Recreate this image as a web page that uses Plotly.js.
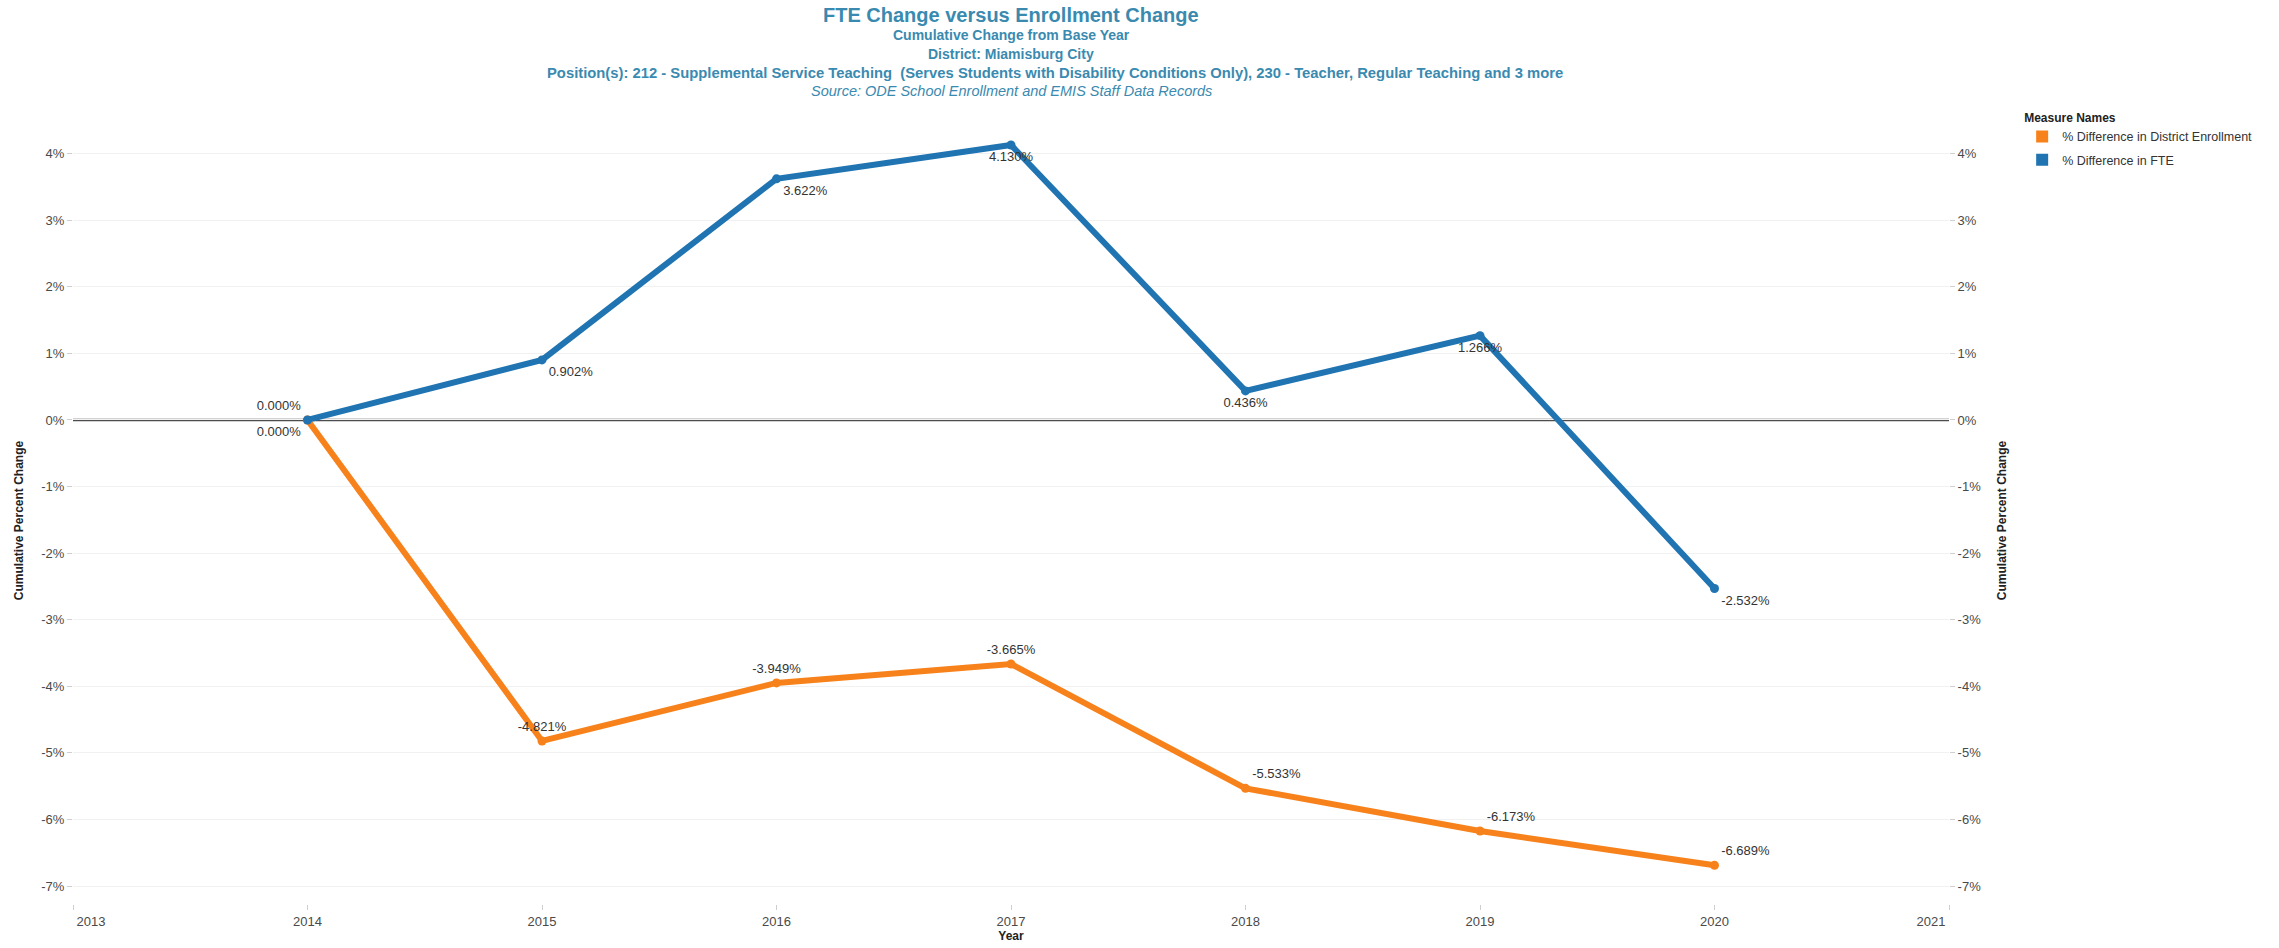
<!DOCTYPE html>
<html>
<head>
<meta charset="utf-8">
<script src="https://cdn.plot.ly/plotly-3.0.1.min.js"></script>
<style>html,body{margin:0;padding:0;background:#fff;}#chart{width:2279px;height:948px;}</style>
</head>
<body>
<div id="chart"></div>
<script>
const years = [2014, 2015, 2016, 2017, 2018, 2019, 2020];
const fteChange = [0.000, 0.902, 3.622, 4.130, 0.436, 1.266, -2.532];
const enrollmentChange = [0.000, -4.821, -3.949, -3.665, -5.533, -6.173, -6.689];
const seriesNames = ['% Difference in District Enrollment', '% Difference in FTE'];
const yTicks = [4, 3, 2, 1, 0, -1, -2, -3, -4, -5, -6, -7];
const xTicks = [2013, 2014, 2015, 2016, 2017, 2018, 2019, 2020, 2021];
const titleLines = [
  'FTE Change versus Enrollment Change',
  'Cumulative Change from Base Year',
  'District: Miamisburg City',
  'Position(s): 212 - Supplemental Service Teaching  (Serves Students with Disability Conditions Only), 230 - Teacher, Regular Teaching and 3 more',
  'Source: ODE School Enrollment and EMIS Staff Data Records'
];

const ORANGE = '#f7821b';
const BLUE = '#1f74b1';
const TITLE_COLOR = '#3a8ab0';
const FONT = 'Liberation Sans, Arial, sans-serif';

const fmt = v => v.toFixed(3) + '%';

const fteTrace = {
  x: years, y: fteChange, type: 'scatter', mode: 'lines+markers+text',
  name: seriesNames[1], showlegend: false,
  line: {color: BLUE, width: 6},
  marker: {color: BLUE, size: 9},
  text: fteChange.map(fmt),
  textposition: ['top left', 'bottom right', 'bottom right', 'bottom center', 'bottom center', 'bottom center', 'bottom right'],
  textfont: {family: FONT, size: 13, color: '#333'},
  cliponaxis: false, hoverinfo: 'x+y'
};
const enrTrace = {
  x: years, y: enrollmentChange, type: 'scatter', mode: 'lines+markers+text',
  name: seriesNames[0], showlegend: false,
  line: {color: ORANGE, width: 6},
  marker: {color: ORANGE, size: 9},
  text: enrollmentChange.map(fmt),
  textposition: ['bottom left', 'top center', 'top center', 'top center', 'top right', 'top right', 'top right'],
  textfont: {family: FONT, size: 13, color: '#333'},
  cliponaxis: false, hoverinfo: 'x+y'
};
const legEnr = {x: [null], y: [null], type: 'scatter', mode: 'markers', name: seriesNames[0],
  legendgroup: 'a', marker: {color: ORANGE, symbol: 'square', size: 14}, showlegend: true};
const legFte = {x: [null], y: [null], type: 'scatter', mode: 'markers', name: seriesNames[1],
  legendgroup: 'b', marker: {color: BLUE, symbol: 'square', size: 14}, showlegend: true};
const rightAxisTrace = {x: years, y: fteChange, yaxis: 'y2', type: 'scatter', mode: 'none',
  showlegend: false, hoverinfo: 'skip'};

const yRange = [-7.27, 4.25];
const yCommon = {
  range: yRange, tickvals: yTicks, ticktext: yTicks.map(v => v + '%'),
  ticks: 'outside', ticklen: 5, tickcolor: '#cfcfcf', tickwidth: 1,
  tickfont: {family: FONT, size: 13, color: '#4a4a4a'},
  showline: false, zeroline: false, automargin: false, fixedrange: true
};

const pad = '\u00a0'.repeat(10);
const xTickText = xTicks.map((v, i) => i === 0 ? pad + v : (i === xTicks.length - 1 ? v + pad : String(v)));

const titleY = [15, 35, 54, 73, 91];
const titleX = [0.5, 0.5, 0.5, 0.5235, 0.5];
const titleSize = [20, 14, 14, 14.8, 14.5];
const titleAnn = titleLines.map((t, i) => ({
  xref: 'paper', yref: 'paper', x: titleX[i],
  y: 1 + (137 - titleY[i]) / 767, yanchor: 'middle', xanchor: 'center',
  text: i === 4 ? '<i>' + t + '</i>' : '<b>' + t + '</b>',
  showarrow: false,
  font: {family: FONT, size: titleSize[i], color: TITLE_COLOR}
}));

const layout = {
  width: 2279, height: 948,
  margin: {l: 73, r: 330, t: 137, b: 44, autoexpand: false},
  paper_bgcolor: '#fff', plot_bgcolor: '#fff',
  font: {family: FONT, color: '#333'},
  showlegend: true,
  legend: {
    x: 1.039, y: 1.04, xanchor: 'left', yanchor: 'top',
    title: {text: '<b>Measure Names</b>', font: {family: FONT, size: 12, color: '#222'}},
    font: {family: FONT, size: 12.5, color: '#333'},
    itemsizing: 'constant', tracegroupgap: 4, itemwidth: 30, bgcolor: 'rgba(0,0,0,0)'
  },
  xaxis: {
    range: [2013, 2021], tickvals: xTicks, ticktext: xTickText,
    ticks: 'outside', ticklen: 5, tickcolor: '#cfcfcf',
    tickfont: {family: FONT, size: 13, color: '#4a4a4a'},
    showgrid: false, zeroline: false, showline: false, automargin: false, fixedrange: true,
    title: {text: '<b>Year</b>', font: {family: FONT, size: 12, color: '#222'}, standoff: 4}
  },
  yaxis: Object.assign({}, yCommon, {
    side: 'left', showgrid: true, gridcolor: '#f1f1f1', gridwidth: 1,
    title: {text: '<b>Cumulative Percent Change</b>', font: {family: FONT, size: 12, color: '#222'}, standoff: 15}
  }),
  yaxis2: Object.assign({}, yCommon, {
    side: 'right', overlaying: 'y', showgrid: false,
    title: {text: '<b>Cumulative Percent Change</b>', font: {family: FONT, size: 12, color: '#222'}, standoff: 17}
  }),
  shapes: [{type: 'line', xref: 'paper', x0: 0, x1: 1, yref: 'y', y0: 0, y1: 0,
    line: {color: '#4d4d4d', width: 2.5}, layer: 'below'}],
  annotations: titleAnn
};

Plotly.newPlot('chart', [rightAxisTrace, enrTrace, fteTrace, legEnr, legFte], layout, {displayModeBar: false});
</script>
</body>
</html>
